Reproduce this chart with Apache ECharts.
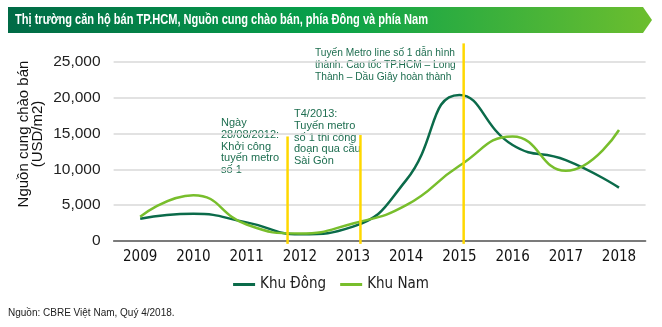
<!DOCTYPE html>
<html>
<head>
<meta charset="utf-8">
<script src="https://cdn.jsdelivr.net/npm/echarts@6/dist/echarts.min.js"></script>
<style>html,body{margin:0;padding:0;background:#fff}#c{width:662px;height:327px}</style>
</head>
<body>
<div id="c"></div>
<script>
var years = ['2009','2010','2011','2012','2013','2014','2015','2016','2017','2018'];
var khuDong = [3100, 3800, 2600, 950, 2000, 8500, 20400, 13400, 11300, 7450];
var khuNam  = [3400, 6400, 2300, 1050, 2450, 5000, 10500, 14600, 9800, 15500];
var yTicks = [0, 5000, 10000, 15000, 20000, 25000];
// event markers: position on a continuous year scale, top value
var eventX = [2011.77, 2013.14, 2015.08];
var eventTop = [14600, 14800, 27600];
var eventText = [
  'Ngày\n28/08/2012:\nKhởi công\ntuyến metro\nsố 1',
  'T4/2013:\nTuyến metro\nsố 1 thi công\nđoạn qua cầu\nSài Gòn',
  'Tuyến Metro line số 1 dẫn hình\nthành. Cao tốc TP.HCM – Long\nThành – Dầu Giây hoàn thành'
];
var title = 'Thị trường căn hộ bán TP.HCM, Nguồn cung chào bán, phía Đông và phía Nam';
var source = 'Nguồn: CBRE Việt Nam, Quý 4/2018.';
var yName = 'Nguồn cung chào bán\n(USD/m2)';

var chart = echarts.init(document.getElementById('c'), null, {renderer:'canvas'});
var narrow = '"Liberation Sans Narrow", "DejaVu Sans Condensed", "Liberation Sans", Arial, sans-serif';
var sans = '"Liberation Sans", Arial, sans-serif';
var annoColor = '#1E6E50';

var mctx = document.createElement('canvas').getContext('2d');
function textW(t, font){ mctx.font = font; return mctx.measureText(t).width; }

var eventSeries = eventX.map(function(x, i){
  return {
    type:'line', xAxisIndex:1, yAxisIndex:0, clip:false, silent:true,
    symbol:'none', z:5,
    lineStyle:{color:'#FFD800', width:2.5},
    data:[[x, -400],[x, eventTop[i]]]
  };
});

var titleFont = 'bold 15px ' + sans;
var titleScale = 413 / textW(title, titleFont);
var annoFont = '11px ' + sans;
var anno3Scale = 140 / textW('Tuyến Metro line số 1 dẫn hình', annoFont);

var annoPos = [[221,117],[294,108],[315,47]];
var annoScale = [1, 1, anno3Scale];
var graphics = [
  {type:'polygon', shape:{points:[[8,7],[643,7],[652,20],[643,33],[8,33]]},
   style:{fill:new echarts.graphic.LinearGradient(0,0,1,0,[{offset:0,color:'#006A46'},{offset:0.5,color:'#08A24A'},{offset:1,color:'#6CBE2E'}])}},
  {type:'text', x:15, y:20, scaleX:titleScale, style:{text:title, fill:'#fff', font:titleFont, textVerticalAlign:'middle', verticalAlign:'middle'}},
  {type:'text', left:8, top:308, style:{text:source, fill:'#222', font:'10px '+sans}},
  {type:'text', x:31, y:134, rotation:Math.PI/2,
   style:{text:yName, fill:'#111', font:'15px '+sans, lineHeight:14, align:'center', verticalAlign:'middle', textAlign:'center', textVerticalAlign:'middle'}}
];
eventText.forEach(function(t,i){
  graphics.push({type:'text', x:annoPos[i][0], y:annoPos[i][1], scaleX:annoScale[i],
    style:{text:t, fill:annoColor, font:annoFont, lineHeight:11.8}});
});

chart.setOption({
  animation:false,
  textStyle:{fontFamily:sans},
  grid:{left:113.6, right:16.4, top:62, bottom:86, containLabel:false},
  legend:{
    top:272, left:'center',
    data:['Khu Đông','Khu Nam'],
    icon:'rect', itemWidth:22, itemHeight:3, itemGap:14,
    textStyle:{fontSize:15, color:'#222', fontFamily:narrow}
  },
  xAxis:[
    {type:'category', data:years, boundaryGap:true,
     axisLine:{lineStyle:{color:'#595959', width:1.5}},
     axisTick:{show:false},
     axisLabel:{color:'#111', fontSize:15, fontFamily:narrow, margin:9}},
    {type:'value', min:2008.5, max:2018.5, show:false}
  ],
  yAxis:{
    type:'value', min:0, max:25000, interval:5000,
    axisLine:{show:false}, axisTick:{show:false},
    splitLine:{lineStyle:{color:'#D9D9D9', width:1.5}},
    axisLabel:{color:'#222', fontSize:15.5, margin:13,
      formatter:function(v){return yTicks.indexOf(v)>=0 ? v.toLocaleString('en-US') : '';}}
  },
  series:[
    {name:'Khu Đông', type:'line', data:khuDong, smooth:0.5, symbol:'none',
     lineStyle:{color:'#0B6B4A', width:2.5}, itemStyle:{color:'#0B6B4A'}, z:3},
    {name:'Khu Nam', type:'line', data:khuNam, smooth:0.5, symbol:'none',
     lineStyle:{color:'#78BE2C', width:2.5}, itemStyle:{color:'#78BE2C'}, z:3}
  ].concat(eventSeries),
  graphic:graphics
});
</script>
</body>
</html>
